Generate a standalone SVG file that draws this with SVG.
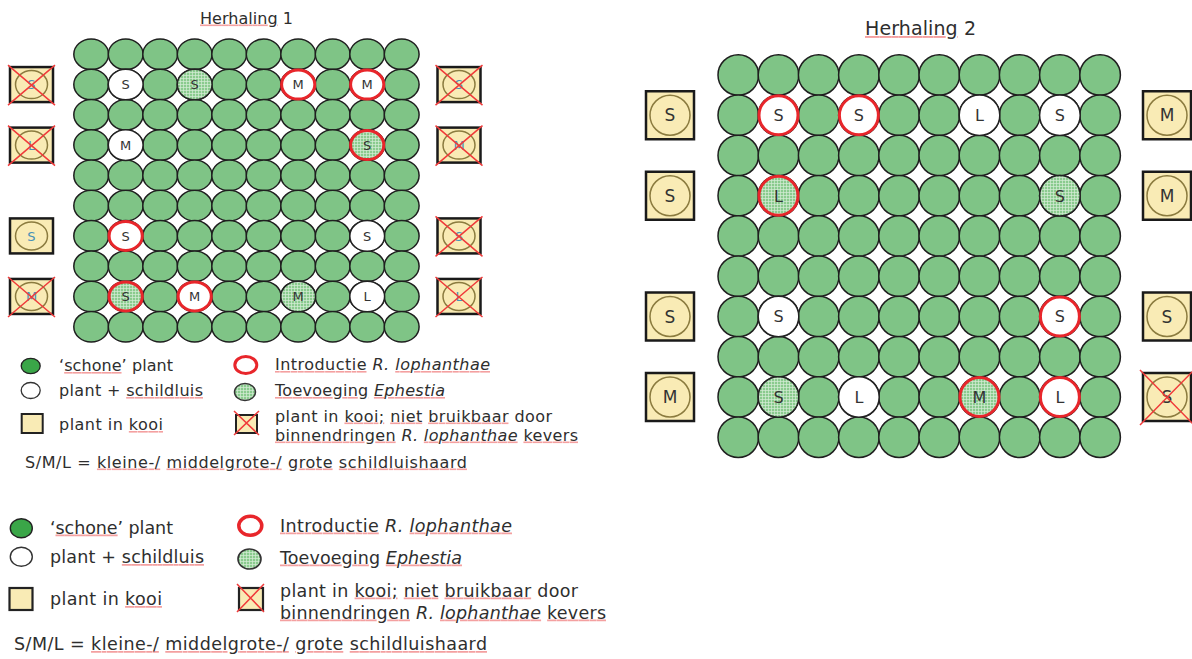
<svg xmlns="http://www.w3.org/2000/svg" xmlns:xlink="http://www.w3.org/1999/xlink" width="1192" height="659" viewBox="0 0 1192 659">
<style>
.t{font-family:"DejaVu Sans",Verdana,sans-serif;fill:#2e2e2e}
.it{font-style:italic}
.sp{text-decoration:underline;fill:#f4a0a0}
.n{fill:#2e2e2e}
.g{fill:#7fc486;stroke:#1f1f1f;stroke-width:1.5}
.w{fill:#fff;stroke:#222;stroke-width:1.5}
.wr{fill:#fff;stroke:#e8262b;stroke-width:3}
.h{fill:url(#hatch);stroke:#222;stroke-width:1.5}
.hr{fill:url(#hatch);stroke:#e8262b;stroke-width:3}
.c1{font-family:"DejaVu Sans",Verdana,sans-serif;font-size:13px;fill:#333;text-anchor:middle}
.c2{font-family:"DejaVu Sans",Verdana,sans-serif;font-size:16px;fill:#333;text-anchor:middle}
.b1{font-family:"DejaVu Sans",Verdana,sans-serif;font-size:13px;fill:#4790b8;text-anchor:middle}
.b2{font-family:"DejaVu Sans",Verdana,sans-serif;font-size:17px;fill:#333;text-anchor:middle}
.box{fill:#f9ebb5;stroke:#1a1a1a;stroke-width:2.5}
.inner{fill:none;stroke:#8b7b3f;stroke-width:1.5}
.x{stroke:#f03a3a;stroke-width:1.5;fill:none}
</style>
<defs>
<pattern id="hatch" patternUnits="userSpaceOnUse" width="3" height="3">
<rect width="3" height="3" fill="#8acb8e"/>
<path d="M0 0.5H3M0.5 0V3" stroke="#e6f4e6" stroke-width="0.7" opacity="0.8"/>
</pattern>
<g id="r1">
<ellipse class="g" cx="91.2" cy="0" rx="17.4" ry="15.3"/>
<ellipse class="g" cx="125.7" cy="0" rx="17.4" ry="15.3"/>
<ellipse class="g" cx="160.2" cy="0" rx="17.4" ry="15.3"/>
<ellipse class="g" cx="194.7" cy="0" rx="17.4" ry="15.3"/>
<ellipse class="g" cx="229.2" cy="0" rx="17.4" ry="15.3"/>
<ellipse class="g" cx="263.7" cy="0" rx="17.4" ry="15.3"/>
<ellipse class="g" cx="298.2" cy="0" rx="17.4" ry="15.3"/>
<ellipse class="g" cx="332.7" cy="0" rx="17.4" ry="15.3"/>
<ellipse class="g" cx="367.2" cy="0" rx="17.4" ry="15.3"/>
<ellipse class="g" cx="401.7" cy="0" rx="17.4" ry="15.3"/>
</g>
<g id="r2">
<circle class="g" cx="738.3" cy="0" r="20.3"/>
<circle class="g" cx="778.5" cy="0" r="20.3"/>
<circle class="g" cx="818.7" cy="0" r="20.3"/>
<circle class="g" cx="858.9" cy="0" r="20.3"/>
<circle class="g" cx="899.1" cy="0" r="20.3"/>
<circle class="g" cx="939.3" cy="0" r="20.3"/>
<circle class="g" cx="979.5" cy="0" r="20.3"/>
<circle class="g" cx="1019.7" cy="0" r="20.3"/>
<circle class="g" cx="1059.9" cy="0" r="20.3"/>
<circle class="g" cx="1100.1" cy="0" r="20.3"/>
</g>
<g id="bx1">
<rect class="box" x="-21.5" y="-17.5" width="43" height="35"/>
<ellipse class="inner" cx="0" cy="0" rx="16" ry="14"/>
</g>
<path id="x1" class="x" d="M-23.5 -19.5L23.5 20.5M23.5 -19.5L-23.5 20.5"/>
<g id="bx2">
<rect class="box" x="-24" y="-24" width="48" height="48"/>
<circle class="inner" cx="0" cy="0" r="20"/>
</g>
<path id="x2" class="x" d="M-27 -27L27 28M27 -27L-27 28"/>
</defs>

<g id="title1"><text class="t" x="200" y="23.5" font-size="16" textLength="93"><tspan class="sp"><tspan class="n">Herhaling</tspan></tspan> 1</text></g>
<g id="title2"><text class="t" x="865" y="35" font-size="19" textLength="111"><tspan class="sp"><tspan class="n">Herhaling</tspan></tspan> 2</text></g>

<g id="grid1">
<use href="#r1" y="54.3"/>
<use href="#r1" y="84.57"/>
<use href="#r1" y="114.84"/>
<use href="#r1" y="145.11"/>
<use href="#r1" y="175.38"/>
<use href="#r1" y="205.65"/>
<use href="#r1" y="235.92"/>
<use href="#r1" y="266.19"/>
<use href="#r1" y="296.46"/>
<use href="#r1" y="326.73"/>
</g>
<g id="grid1-cells">
<g id="g1-r2c2"><ellipse class="w" cx="125.7" cy="84.57" rx="17.4" ry="15.3"/><text class="c1" x="125.7" y="89.2">S</text></g>
<g id="g1-r2c4"><ellipse class="h" cx="194.7" cy="84.57" rx="17.4" ry="15.3"/><text class="c1" x="194.7" y="89.2">S</text></g>
<g id="g1-r2c7"><ellipse class="wr" cx="298.2" cy="84.57" rx="16.6" ry="14.5"/><text class="c1" x="298.2" y="89.2">M</text></g>
<g id="g1-r2c9"><ellipse class="wr" cx="367.2" cy="84.57" rx="16.6" ry="14.5"/><text class="c1" x="367.2" y="89.2">M</text></g>
<g id="g1-r4c2"><ellipse class="w" cx="125.7" cy="145.11" rx="17.4" ry="15.3"/><text class="c1" x="125.7" y="149.7">M</text></g>
<g id="g1-r4c9"><ellipse class="hr" cx="367.2" cy="145.11" rx="16.6" ry="14.5"/><text class="c1" x="367.2" y="149.7">S</text></g>
<g id="g1-r7c2"><ellipse class="wr" cx="125.7" cy="235.92" rx="16.6" ry="14.5"/><text class="c1" x="125.7" y="240.5">S</text></g>
<g id="g1-r7c9"><ellipse class="w" cx="367.2" cy="235.92" rx="17.4" ry="15.3"/><text class="c1" x="367.2" y="240.5">S</text></g>
<g id="g1-r9c2"><ellipse class="hr" cx="125.7" cy="296.46" rx="16.6" ry="14.5"/><text class="c1" x="125.7" y="301.1">S</text></g>
<g id="g1-r9c4"><ellipse class="wr" cx="194.7" cy="296.46" rx="16.6" ry="14.5"/><text class="c1" x="194.7" y="301.1">M</text></g>
<g id="g1-r9c7"><ellipse class="h" cx="298.2" cy="296.46" rx="17.4" ry="15.3"/><text class="c1" x="298.2" y="301.1">M</text></g>
<g id="g1-r9c9"><ellipse class="w" cx="367.2" cy="296.46" rx="17.4" ry="15.3"/><text class="c1" x="367.2" y="301.1">L</text></g>
</g>
<g id="grid1-cages">
<g id="g1-left1"><use href="#bx1" x="31.5" y="84.57"/><text class="b1" x="31.5" y="89.2">S</text><use href="#x1" x="31.5" y="84.57"/></g>
<g id="g1-left2"><use href="#bx1" x="31.5" y="145.11"/><text class="b1" x="31.5" y="149.7">L</text><use href="#x1" x="31.5" y="145.11"/></g>
<g id="g1-left3"><use href="#bx1" x="31.5" y="235.92"/><text class="b1" x="31.5" y="240.5">S</text></g>
<g id="g1-left4"><use href="#bx1" x="31.5" y="296.46"/><text class="b1" x="31.5" y="301.1">M</text><use href="#x1" x="31.5" y="296.46"/></g>
<g id="g1-right1"><use href="#bx1" x="459" y="84.57"/><text class="b1" x="459" y="89.2">S</text><use href="#x1" x="459" y="84.57"/></g>
<g id="g1-right2"><use href="#bx1" x="459" y="145.11"/><text class="b1" x="459" y="149.7">M</text><use href="#x1" x="459" y="145.11"/></g>
<g id="g1-right3"><use href="#bx1" x="459" y="235.92"/><text class="b1" x="459" y="240.5">S</text><use href="#x1" x="459" y="235.92"/></g>
<g id="g1-right4"><use href="#bx1" x="459" y="296.46"/><text class="b1" x="459" y="301.1">L</text><use href="#x1" x="459" y="296.46"/></g>
</g>

<g id="grid2">
<use href="#r2" y="75"/>
<use href="#r2" y="115.25"/>
<use href="#r2" y="155.5"/>
<use href="#r2" y="195.75"/>
<use href="#r2" y="236"/>
<use href="#r2" y="276.25"/>
<use href="#r2" y="316.5"/>
<use href="#r2" y="356.75"/>
<use href="#r2" y="397"/>
<use href="#r2" y="437.25"/>
</g>
<g id="grid2-cells">
<g id="g2-r2c2"><circle class="wr" cx="778.5" cy="115.25" r="19.5"/><text class="c2" x="778.5" y="121">S</text></g>
<g id="g2-r2c4"><circle class="wr" cx="858.9" cy="115.25" r="19.5"/><text class="c2" x="858.9" y="121">S</text></g>
<g id="g2-r2c7"><circle class="w" cx="979.5" cy="115.25" r="20.3"/><text class="c2" x="979.5" y="121">L</text></g>
<g id="g2-r2c9"><circle class="w" cx="1059.9" cy="115.25" r="20.3"/><text class="c2" x="1059.9" y="121">S</text></g>
<g id="g2-r4c2"><circle class="hr" cx="778.5" cy="195.75" r="19.5"/><text class="c2" x="778.5" y="201.5">L</text></g>
<g id="g2-r4c9"><circle class="h" cx="1059.9" cy="195.75" r="20.3"/><text class="c2" x="1059.9" y="201.5">S</text></g>
<g id="g2-r7c2"><circle class="w" cx="778.5" cy="316.5" r="20.3"/><text class="c2" x="778.5" y="322.2">S</text></g>
<g id="g2-r7c9"><circle class="wr" cx="1059.9" cy="316.5" r="19.5"/><text class="c2" x="1059.9" y="322.2">S</text></g>
<g id="g2-r9c2"><circle class="h" cx="778.5" cy="397" r="20.3"/><text class="c2" x="778.5" y="402.7">S</text></g>
<g id="g2-r9c4"><circle class="w" cx="858.9" cy="397" r="20.3"/><text class="c2" x="858.9" y="402.7">L</text></g>
<g id="g2-r9c7"><circle class="hr" cx="979.5" cy="397" r="19.5"/><text class="c2" x="979.5" y="402.7">M</text></g>
<g id="g2-r9c9"><circle class="wr" cx="1059.9" cy="397" r="19.5"/><text class="c2" x="1059.9" y="402.7">L</text></g>
</g>
<g id="grid2-cages">
<g id="g2-left1"><use href="#bx2" x="670" y="115.25"/><text class="b2" x="670" y="121.3">S</text></g>
<g id="g2-left2"><use href="#bx2" x="670" y="195.75"/><text class="b2" x="670" y="201.8">S</text></g>
<g id="g2-left3"><use href="#bx2" x="670" y="316.5"/><text class="b2" x="670" y="322.5">S</text></g>
<g id="g2-left4"><use href="#bx2" x="670" y="397"/><text class="b2" x="670" y="403">M</text></g>
<g id="g2-right1"><use href="#bx2" x="1167" y="115.25"/><text class="b2" x="1167" y="121.3">M</text></g>
<g id="g2-right2"><use href="#bx2" x="1167" y="195.75"/><text class="b2" x="1167" y="201.8">M</text></g>
<g id="g2-right3"><use href="#bx2" x="1167" y="316.5"/><text class="b2" x="1167" y="322.5">S</text></g>
<g id="g2-right4"><use href="#bx2" x="1167" y="397"/><text class="b2" x="1167" y="403">S</text><use href="#x2" x="1167" y="397"/></g>
</g>

<g id="legend1">
<g id="l1-schone"><ellipse cx="30.7" cy="366" rx="9.5" ry="7.7" fill="#3aa648" stroke="#222" stroke-width="1.3"/>
<text class="t" x="59" y="371" font-size="16" textLength="114">‘<tspan class="sp"><tspan class="n">schone</tspan></tspan>’ plant</text></g>
<g id="l1-schildluis"><ellipse cx="30.7" cy="390.5" rx="9.5" ry="8" fill="#fff" stroke="#333" stroke-width="1.3"/>
<text class="t" x="59" y="396" font-size="16" textLength="144">plant + <tspan class="sp"><tspan class="n">schildluis</tspan></tspan></text></g>
<g id="l1-kooi"><rect x="21.7" y="414" width="21" height="19" fill="#f9ebb5" stroke="#222" stroke-width="2"/>
<text class="t" x="59" y="430" font-size="16" textLength="104">plant in <tspan class="sp"><tspan class="n">kooi</tspan></tspan></text></g>
<g id="l1-intro"><ellipse cx="245.8" cy="365" rx="11" ry="8.5" fill="#fff" stroke="#e8262b" stroke-width="3"/>
<text class="t" x="275" y="370" font-size="16" textLength="215"><tspan class="sp"><tspan class="n">Introductie</tspan></tspan> <tspan class="it">R. <tspan class="sp"><tspan class="n">lophanthae</tspan></tspan></tspan></text></g>
<g id="l1-ephestia"><ellipse cx="245" cy="392" rx="10.5" ry="8.5" fill="url(#hatch)" stroke="#333" stroke-width="1.5"/>
<text class="t" x="275" y="396" font-size="16" textLength="170"><tspan class="sp"><tspan class="n">Toevoeging</tspan></tspan> <tspan class="it sp"><tspan class="n">Ephestia</tspan></tspan></text></g>
<g id="l1-niet"><rect x="236" y="415" width="21" height="18" fill="#f9ebb5" stroke="#222" stroke-width="2"/>
<path class="x" d="M234 411L259 435M259 411L234 435"/>
<text class="t" x="275" y="421.5" font-size="16" textLength="277">plant in <tspan class="sp"><tspan class="n">kooi;</tspan></tspan> <tspan class="sp"><tspan class="n">niet</tspan></tspan> <tspan class="sp"><tspan class="n">bruikbaar</tspan></tspan> door</text>
<text class="t" x="275" y="440.5" font-size="16" textLength="303"><tspan class="sp"><tspan class="n">binnendringen</tspan></tspan> <tspan class="it">R. <tspan class="sp"><tspan class="n">lophanthae</tspan></tspan></tspan> <tspan class="sp"><tspan class="n">kevers</tspan></tspan></text></g>
<g id="l1-sml"><text class="t" x="25" y="467.5" font-size="16" textLength="442">S/M/L = <tspan class="sp"><tspan class="n">kleine-/</tspan></tspan> <tspan class="sp"><tspan class="n">middelgrote-/</tspan></tspan> <tspan class="sp"><tspan class="n">grote</tspan></tspan> <tspan class="sp"><tspan class="n">schildluishaard</tspan></tspan></text></g>
</g>

<g id="legend2">
<g id="l2-schone"><ellipse cx="21.3" cy="528.3" rx="11" ry="9.5" fill="#3aa648" stroke="#222" stroke-width="1.4"/>
<text class="t" x="50" y="533.5" font-size="17.5" textLength="123">‘<tspan class="sp"><tspan class="n">schone</tspan></tspan>’ plant</text></g>
<g id="l2-schildluis"><ellipse cx="21.3" cy="556.7" rx="11" ry="9.5" fill="#fff" stroke="#333" stroke-width="1.4"/>
<text class="t" x="50" y="563" font-size="17.5" textLength="154">plant + <tspan class="sp"><tspan class="n">schildluis</tspan></tspan></text></g>
<g id="l2-kooi"><rect x="9.5" y="588" width="23" height="22" fill="#f9ebb5" stroke="#222" stroke-width="2.2"/>
<text class="t" x="50" y="605" font-size="17.5" textLength="112">plant in <tspan class="sp"><tspan class="n">kooi</tspan></tspan></text></g>
<g id="l2-intro"><ellipse cx="250.3" cy="525.8" rx="11.5" ry="9.5" fill="#fff" stroke="#e8262b" stroke-width="3.5"/>
<text class="t" x="280" y="531.5" font-size="17.5" textLength="232"><tspan class="sp"><tspan class="n">Introductie</tspan></tspan> <tspan class="it">R. <tspan class="sp"><tspan class="n">lophanthae</tspan></tspan></tspan></text></g>
<g id="l2-ephestia"><ellipse cx="249.5" cy="559" rx="11.5" ry="10" fill="url(#hatch)" stroke="#333" stroke-width="1.6"/>
<text class="t" x="280" y="563.5" font-size="17.5" textLength="182"><tspan class="sp"><tspan class="n">Toevoeging</tspan></tspan> <tspan class="it sp"><tspan class="n">Ephestia</tspan></tspan></text></g>
<g id="l2-niet"><rect x="239" y="588" width="24" height="22" fill="#f9ebb5" stroke="#222" stroke-width="2.2"/>
<path class="x" d="M237 584L264 612M264 584L237 612"/>
<text class="t" x="280" y="596.5" font-size="17.5" textLength="298">plant in <tspan class="sp"><tspan class="n">kooi;</tspan></tspan> <tspan class="sp"><tspan class="n">niet</tspan></tspan> <tspan class="sp"><tspan class="n">bruikbaar</tspan></tspan> door</text>
<text class="t" x="280" y="618.5" font-size="17.5" textLength="326"><tspan class="sp"><tspan class="n">binnendringen</tspan></tspan> <tspan class="it">R. <tspan class="sp"><tspan class="n">lophanthae</tspan></tspan></tspan> <tspan class="sp"><tspan class="n">kevers</tspan></tspan></text></g>
<g id="l2-sml"><text class="t" x="14" y="650" font-size="17.5" textLength="473">S/M/L = <tspan class="sp"><tspan class="n">kleine-/</tspan></tspan> <tspan class="sp"><tspan class="n">middelgrote-/</tspan></tspan> <tspan class="sp"><tspan class="n">grote</tspan></tspan> <tspan class="sp"><tspan class="n">schildluishaard</tspan></tspan></text></g>
</g>
<g id="connectors"/>
</svg>
